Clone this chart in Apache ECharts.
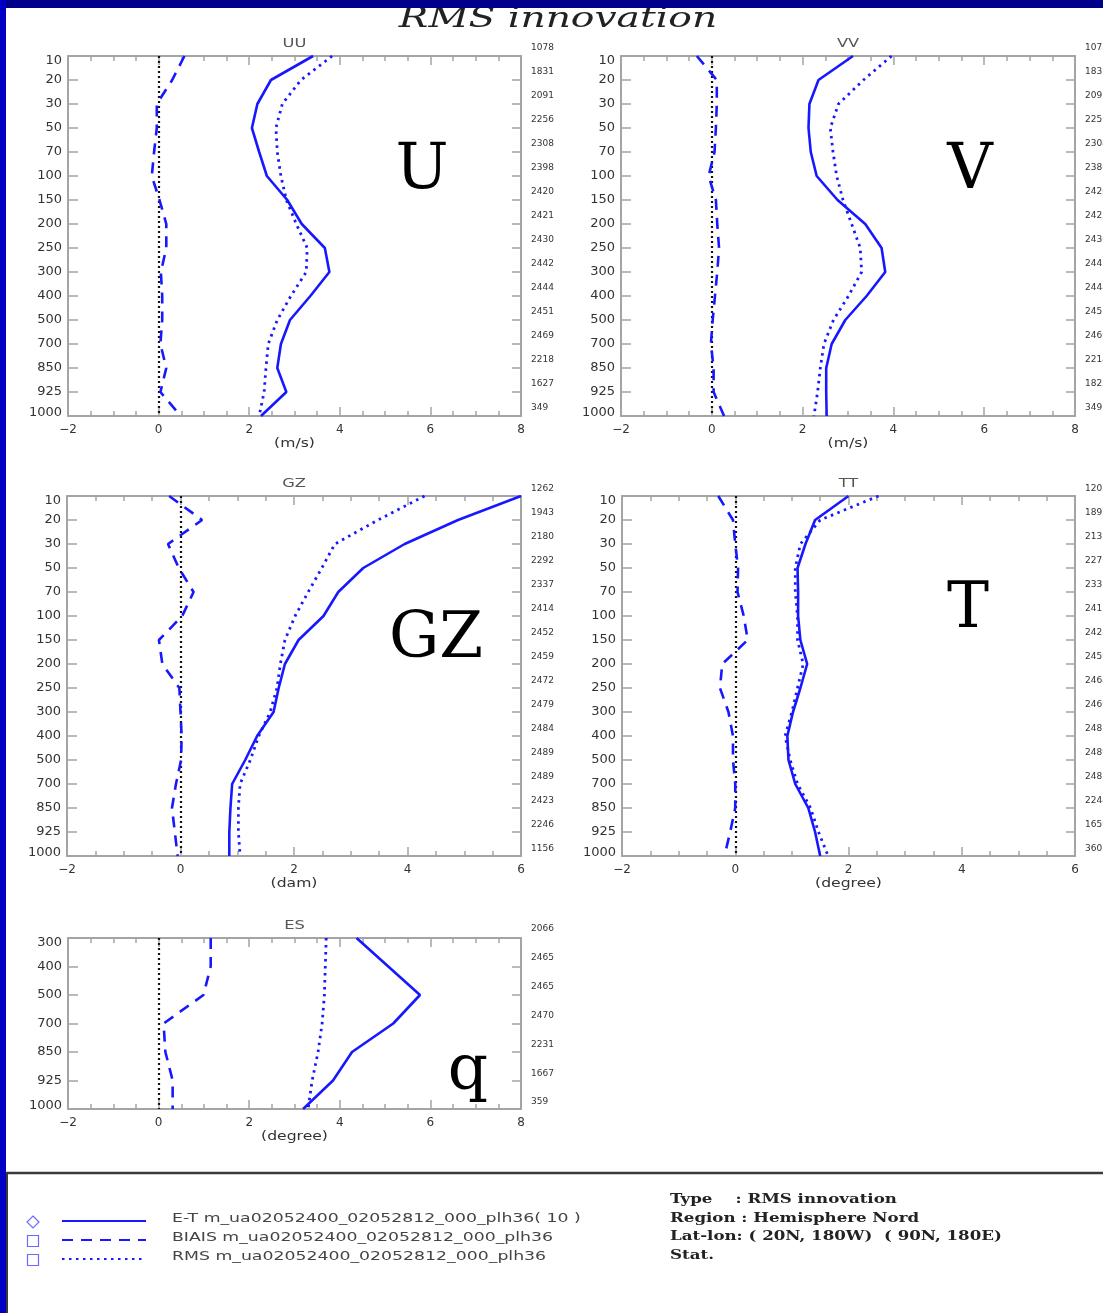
<!DOCTYPE html>
<html><head><meta charset="utf-8">
<script src="https://cdn.jsdelivr.net/npm/echarts@6/dist/echarts.min.js"></script>
<style>html,body{margin:0;padding:0;background:#fff;overflow:hidden}#c{width:1103px;height:1313px;}</style>
</head><body><div id="c"></div><script>
// ---------- DATA ----------
const levels = ['10','20','30','50','70','100','150','200','250','300','400','500','700','850','925','1000'];
const esLevels = ['300','400','500','700','850','925','1000'];

const uuET   = [3.41, 2.48, 2.18, 2.06, 2.22, 2.39, 2.84, 3.16, 3.67, 3.77, 3.35, 2.90, 2.70, 2.62, 2.82, 2.26];
const uuBias = [0.57, 0.30, -0.04, -0.04, -0.10, -0.15, 0.02, 0.17, 0.17, 0.05, 0.08, 0.08, 0.04, 0.17, 0.04, 0.49];
const uuRMS  = [3.83, 3.14, 2.73, 2.59, 2.62, 2.70, 2.82, 3.04, 3.28, 3.26, 2.92, 2.62, 2.42, 2.37, 2.33, 2.22];
const uuCount = [1078, 1831, 2091, 2256, 2308, 2398, 2420, 2421, 2430, 2442, 2444, 2451, 2469, 2218, 1627, 349];

const vvET   = [3.11, 2.35, 2.15, 2.13, 2.18, 2.31, 2.77, 3.38, 3.74, 3.82, 3.41, 2.94, 2.64, 2.52, 2.52, 2.53];
const vvBias = [-0.33, 0.11, 0.11, 0.09, 0.06, -0.07, 0.09, 0.12, 0.16, 0.12, 0.07, 0.02, -0.02, 0.04, 0.04, 0.27];
const vvRMS  = [3.96, 3.34, 2.79, 2.61, 2.67, 2.75, 2.89, 3.08, 3.27, 3.30, 3.01, 2.68, 2.47, 2.39, 2.33, 2.25];
const vvCount = [1078, 1831, 2091, 2256, 2304, 2386, 2420, 2421, 2430, 2442, 2444, 2451, 2469, 2214, 1822, 349];

const gzET   = [6.00, 4.89, 3.95, 3.22, 2.78, 2.52, 2.08, 1.84, 1.73, 1.64, 1.35, 1.14, 0.91, 0.88, 0.86, 0.86];
const gzBias = [-0.20, 0.38, -0.22, -0.03, 0.23, 0.03, -0.38, -0.32, -0.02, 0.00, 0.02, 0.01, -0.08, -0.15, -0.10, -0.05];
const gzRMS  = [4.30, 3.48, 2.72, 2.49, 2.25, 2.02, 1.84, 1.76, 1.70, 1.58, 1.38, 1.23, 1.05, 1.02, 1.02, 1.05];
const gzCount = [1262, 1943, 2180, 2292, 2337, 2414, 2452, 2459, 2472, 2479, 2484, 2489, 2489, 2423, 2246, 1156];

const ttET   = [2.00, 1.41, 1.24, 1.10, 1.11, 1.11, 1.15, 1.27, 1.15, 1.02, 0.92, 0.94, 1.06, 1.29, 1.41, 1.50];
const ttBias = [-0.30, -0.04, 0.00, 0.05, 0.04, 0.15, 0.22, -0.23, -0.27, -0.12, -0.04, -0.04, 0.00, 0.00, -0.09, -0.19];
const ttRMS  = [2.53, 1.50, 1.15, 1.06, 1.06, 1.10, 1.10, 1.20, 1.10, 1.00, 0.88, 0.97, 1.10, 1.33, 1.47, 1.64];
const ttCount = [1202, 1891, 2131, 2276, 2331, 2413, 2428, 2459, 2464, 2469, 2482, 2489, 2482, 2244, 1659, 360];

const esET   = [4.37, 5.07, 5.77, 5.18, 4.27, 3.85, 3.19];
const esBias = [1.15, 1.15, 0.99, 0.11, 0.15, 0.31, 0.31];
const esRMS  = [3.70, 3.68, 3.66, 3.61, 3.52, 3.39, 3.30];
const esCount = [2066, 2465, 2465, 2470, 2231, 1667, 359];

const seriesNames = ['E-T', 'BIAIS', 'RMS'];
const legendTexts = ['E-T m_ua02052400_02052812_000_plh36( 10 )', 'BIAIS m_ua02052400_02052812_000_plh36', 'RMS m_ua02052400_02052812_000_plh36'];
const infoTexts = ['Type    : RMS innovation', 'Region : Hemisphere Nord', 'Lat-lon: ( 20N, 180W)  ( 90N, 180E)', 'Stat.'];

// ---------- LAYOUT / STYLE ----------
const BLUE = '#1818ff';
const AX = '#a4a4a4';
const SANS = '"DejaVu Sans", sans-serif';
const SERIF = '"DejaVu Serif", serif';

const panels = [
  {title:'UU', unit:'(m/s)', big:'U', bx:422, by:172, left:68, top:56, width:453, height:360, xmax:8, lv:levels, et:uuET, bias:uuBias, rms:uuRMS, cnt:uuCount, cOff:-8, cExt:0},
  {title:'VV', unit:'(m/s)', big:'V', bx:970, by:172, left:621, top:56, width:454, height:360, xmax:8, lv:levels, et:vvET, bias:vvBias, rms:vvRMS, cnt:vvCount, cOff:-8, cExt:0},
  {title:'GZ', unit:'(dam)', big:'GZ', bx:436, by:641, left:67, top:496, width:454, height:360, xmax:6, lv:levels, et:gzET, bias:gzBias, rms:gzRMS, cnt:gzCount, cOff:-7, cExt:0},
  {title:'TT', unit:'(degree)', big:'T', bx:968, by:611, left:622, top:496, width:453, height:360, xmax:6, lv:levels, et:ttET, bias:ttBias, rms:ttRMS, cnt:ttCount, cOff:-7, cExt:0},
  {title:'ES', unit:'(degree)', big:'q', bx:468, by:1073, left:68, top:938, width:453, height:171, xmax:8, lv:esLevels, et:esET, bias:esBias, rms:esRMS, cnt:esCount, cOff:-9, cExt:2}
];

const grid = [], xAxis = [], yAxis = [], series = [], graphic = [];
const axisLine = {show:true, onZero:false, lineStyle:{color:AX, width:2}};
const fmtX = v => (v < 0 ? '\u2212' : '') + Math.abs(v);
const lvFont = {fontSize:13, color:'#333', fontFamily:SANS};

panels.forEach(p => {
  const gi = grid.length;
  grid.push({left:p.left, top:p.top, width:p.width, height:p.height, outerBoundsMode:'none', containLabel:false});
  grid.push({left:p.left, top:p.top + p.cOff, width:p.width, height:p.height + p.cExt, outerBoundsMode:'none', containLabel:false});
  const xb = xAxis.length;
  const tick = {show:true, inside:true, length:9, lineStyle:{color:AX, width:1.5}};
  const minor = {show:true, splitNumber:4, length:5, lineStyle:{color:AX, width:1.5}};
  xAxis.push({type:'value', gridIndex:gi, min:-2, max:p.xmax, interval:2, position:'bottom', axisLine, axisTick:tick, minorTick:minor, splitLine:{show:false}, minorSplitLine:{show:false},
    axisLabel:{margin:8, fontSize:12, color:'#333', fontFamily:SANS, formatter:fmtX}});
  xAxis.push({type:'value', gridIndex:gi, min:-2, max:p.xmax, interval:2, position:'top', axisLine, axisTick:tick, minorTick:minor, splitLine:{show:false}, axisLabel:{show:false}});
  xAxis.push({type:'value', gridIndex:gi + 1, min:-2, max:p.xmax, show:false});
  const yb = yAxis.length;
  const last = p.lv.length - 1;
  yAxis.push({type:'category', gridIndex:gi, data:p.lv, inverse:true, boundaryGap:false, position:'left', axisLine,
    axisTick:{show:true, inside:true, length:10, interval:0, lineStyle:{color:AX, width:1.5}}, splitLine:{show:false},
    axisLabel:Object.assign({interval:0, margin:6,
      formatter:(v, i) => i === 0 ? '{t|' + v + '}' : (i === last ? '{b|' + v + '}' : v),
      rich:{t:Object.assign({padding:[9, 0, 0, 0]}, lvFont), b:Object.assign({padding:[0, 0, 7, 0]}, lvFont)}}, lvFont)});
  yAxis.push({type:'category', gridIndex:gi, data:p.lv, inverse:true, boundaryGap:false, position:'right', axisLine,
    axisTick:{show:true, inside:true, length:9, interval:0, lineStyle:{color:AX, width:1.5}}, splitLine:{show:false}, axisLabel:{show:false}});
  const cnt = p.cnt;
  yAxis.push({type:'value', gridIndex:gi + 1, min:0, max:cnt.length - 1, interval:1, inverse:true, position:'right',
    axisLine:{show:false}, axisTick:{show:false}, splitLine:{show:false},
    axisLabel:{margin:10, fontSize:9, color:'#333', fontFamily:SANS, formatter:v => String(cnt[v])}});

  const pts = arr => arr.map((v, i) => [v, p.lv[i]]);
  series.push({type:'line', name:seriesNames[0], xAxisIndex:xb, yAxisIndex:yb, data:pts(p.et), symbol:'none', silent:true,
    lineStyle:{color:BLUE, width:2.6, type:'solid'}, z:4});
  series.push({type:'line', name:seriesNames[1], xAxisIndex:xb, yAxisIndex:yb, data:pts(p.bias), symbol:'none', silent:true,
    lineStyle:{color:BLUE, width:2.6, type:[11, 8]}, z:4,
    markLine:{silent:true, symbol:'none', label:{show:false}, lineStyle:{color:'#111', type:[2, 3], width:2.2}, data:[{xAxis:0}], z:3}});
  series.push({type:'line', name:seriesNames[2], xAxisIndex:xb, yAxisIndex:yb, data:pts(p.rms), symbol:'none', silent:true,
    lineStyle:{color:BLUE, width:2.8, type:[2.5, 4.5]}, z:4});

  graphic.push({type:'text', x:p.left + p.width / 2, y:p.top - 12, scaleX:1.25, z:10,
    style:{text:p.title, font:'13px ' + SANS, fill:'#555', align:'center', verticalAlign:'middle', textAlign:'center', textVerticalAlign:'middle'}});
  graphic.push({type:'text', x:p.left + p.width / 2, y:p.top + p.height + 28, scaleX:1.3, z:10,
    style:{text:p.unit, font:'12px ' + SANS, fill:'#333', align:'center', verticalAlign:'middle', textAlign:'center', textVerticalAlign:'middle'}});
  graphic.push({type:'text', x:p.bx, y:p.by, z:10,
    style:{text:p.big, font:'63px ' + SERIF, fill:'#000', align:'center', verticalAlign:'middle', textAlign:'center', textVerticalAlign:'middle'}});
});

// frame strips and title
graphic.push({type:'text', x:558, y:20, scaleX:1.40, z:20,
  style:{text:'RMS innovation', font:'italic 28px ' + SERIF, fill:'#222', align:'center', verticalAlign:'middle', textAlign:'center', textVerticalAlign:'middle'}});
graphic.push({type:'rect', z:30, shape:{x:0, y:0, width:1103, height:8}, style:{fill:'#00008a'}});
graphic.push({type:'rect', z:30, shape:{x:0, y:0, width:6, height:1313}, style:{fill:'#0000c4'}});
graphic.push({type:'line', z:25, shape:{x1:6, y1:1173, x2:1103, y2:1173}, style:{stroke:'#3a3a3a', lineWidth:2.5}});
graphic.push({type:'line', z:25, shape:{x1:7, y1:1173, x2:7, y2:1313}, style:{stroke:'#3a3a3a', lineWidth:2}});

// legend
const legY = [1221, 1240, 1259];
const legDash = [null, [11, 8], [2.5, 4.5]];
legY.forEach((y, i) => {
  graphic.push({type:'line', z:20, shape:{x1:62, y1:y, x2:146, y2:y}, style:{stroke:BLUE, lineWidth:2, lineDash:legDash[i]}});
  graphic.push({type:'text', x:172, y:y - 2, scaleX:1.33, z:20,
    style:{text:legendTexts[i], font:'13px ' + SANS, fill:'#444', align:'left', verticalAlign:'middle', textAlign:'left', textVerticalAlign:'middle'}});
});
graphic.push({type:'polygon', z:20, shape:{points:[[33, 1216], [39, 1222], [33, 1228], [27, 1222]]}, style:{fill:'none', stroke:'#6a6aff', lineWidth:1.2}});
graphic.push({type:'rect', z:20, shape:{x:27.5, y:1235.5, width:11, height:11}, style:{fill:'none', stroke:'#6a6aff', lineWidth:1.2}});
graphic.push({type:'rect', z:20, shape:{x:27.5, y:1254.5, width:11, height:11}, style:{fill:'none', stroke:'#6a6aff', lineWidth:1.2}});

const infoY = [1199, 1218, 1236, 1255];
infoY.forEach((y, i) => {
  graphic.push({type:'text', x:670, y:y + 1, scaleX:1.28, z:20,
    style:{text:infoTexts[i], font:'bold 13px ' + SERIF, fill:'#222', align:'left', verticalAlign:'middle', textAlign:'left', textVerticalAlign:'middle'}});
});

const chart = echarts.init(document.getElementById('c'), null, {renderer:'canvas'});
chart.setOption({backgroundColor:'#fff', animation:false, grid, xAxis, yAxis, series, graphic});
</script></body></html>
